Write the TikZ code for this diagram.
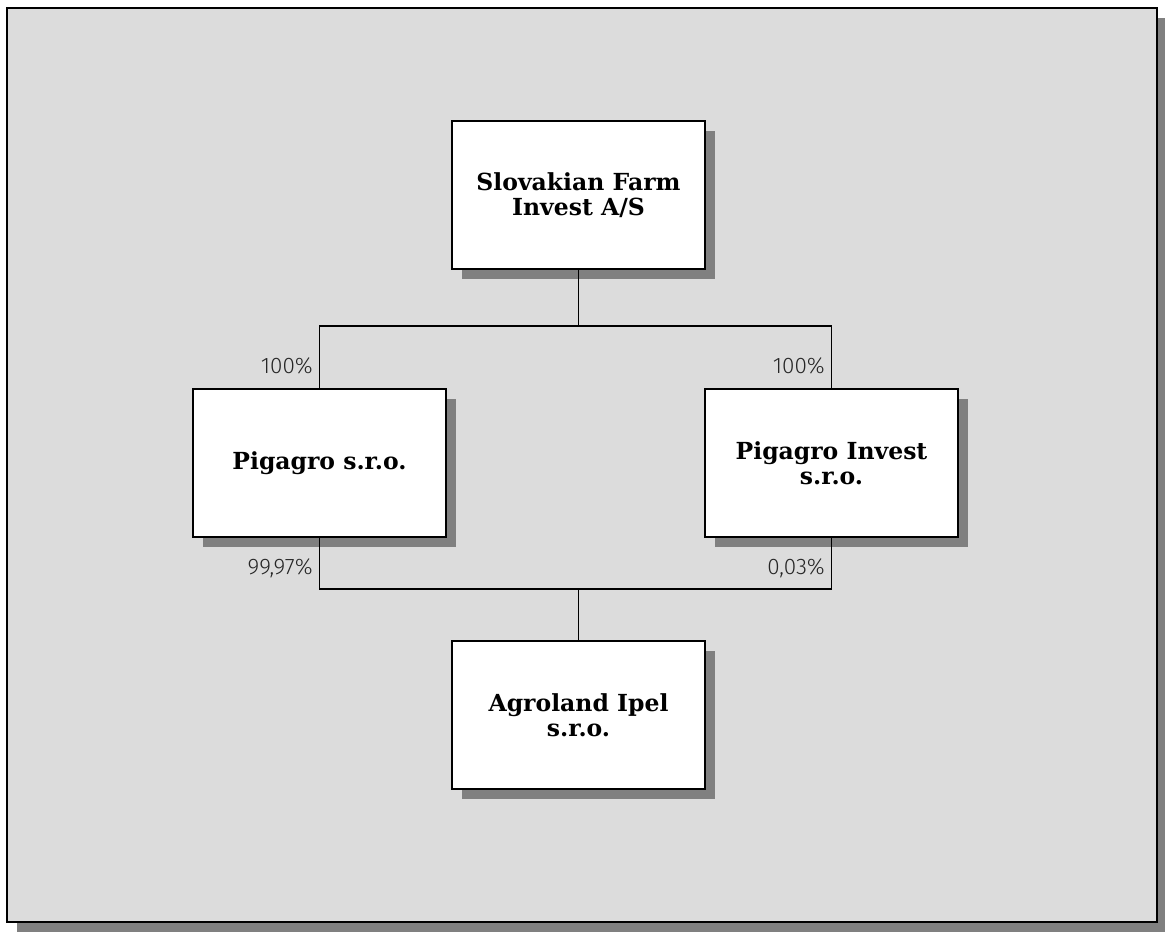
\documentclass[tikz,border=0pt]{standalone}
\usepackage{fontspec}
\usepackage{tikz}
\usetikzlibrary{positioning,shadows}
\newfontfamily\boxfont{DejaVu Serif}
\newfontfamily\pctfont{Fira Sans}[UprightFont=* Light]
\definecolor{pagegray}{RGB}{220,220,220}
\definecolor{shadowgray}{RGB}{128,128,128}
\tikzset{
    companybox/.style={draw=black, line width=1.6pt, fill=white, minimum width=253pt, minimum height=148pt,
        inner sep=0pt, outer sep=0pt, align=center, font=\boxfont\bfseries\fontsize{23.5}{25.5}\selectfont,
        drop shadow={shadow xshift=10pt, shadow yshift=-10pt, fill=shadowgray, opacity=1}},
    pct/.style={font=\pctfont\fontsize{22.5}{26}\selectfont, inner sep=0pt, text=black!85},
    link/.style={line width=1.6pt}
}

\begin{document}
\begin{tikzpicture}[x=1pt,y=-1pt]
    \useasboundingbox (0,0) rectangle (1165,934);
    % frame with shadow
    \fill[shadowgray] (17,18) rectangle (1165,932);
    \draw[fill=pagegray, line width=1.6pt] (7,8) rectangle (1157,922);

    % companies
    \node[companybox] (slovakian) at (578.5,195) {Slovakian Farm\\Invest A/S};
    \node[companybox] (pigagro) at (319.5,463) {Pigagro s.r.o.};
    \node[companybox] (pigagroinv) at (831.5,463) {Pigagro Invest\\s.r.o.};
    \node[companybox] (agroland) at (578.5,715) {Agroland Ipel\\s.r.o.};

    % ownership lines
    \coordinate (topjoin) at (578.5,326);
    \coordinate (lowjoin) at (578.5,589);
    \draw[link] (slovakian.south) -- (topjoin);
    \draw[link] (pigagro.north) -- (pigagro.north |- topjoin) -- (pigagroinv.north |- topjoin) -- (pigagroinv.north);
    \draw[link] (pigagro.south) -- (pigagro.south |- lowjoin) -- (pigagroinv.south |- lowjoin) -- (pigagroinv.south);
    \draw[link] (lowjoin) -- (agroland.north);

    % shares
    \node[pct, anchor=east] (pctpig) at (313,366) {100\%};
    \node[pct, anchor=east] (pctinv) at (825,366) {100\%};
    \node[pct, anchor=east] (pctpigag) at (313,568) {99,97\%};
    \node[pct, anchor=east] (pctinvag) at (825,568) {0,03\%};
\end{tikzpicture}
\end{document}
